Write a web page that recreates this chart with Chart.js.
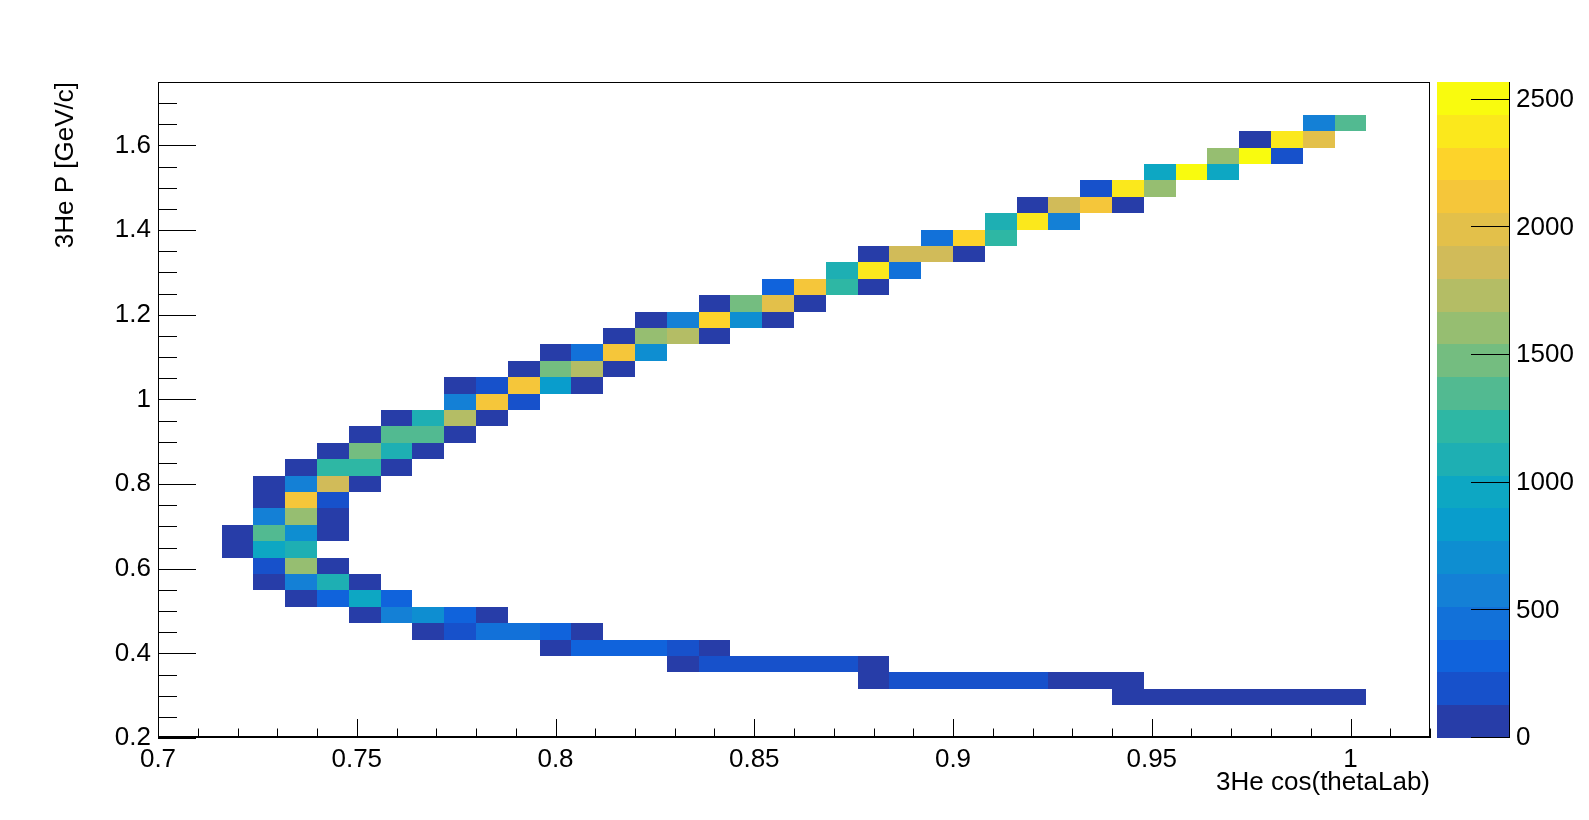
<!DOCTYPE html>
<html>
<head>
<meta charset="utf-8">
<title>3He P vs cos(thetaLab)</title>
<script src="https://cdn.jsdelivr.net/npm/chart.js@4.4.1/dist/chart.umd.min.js"></script>
<style>
  html, body { margin: 0; padding: 0; background: #fff; }
  #wrap { width: 1589px; height: 820px; }
</style>
</head>
<body>
<div id="wrap"><canvas id="c" width="1589" height="820"></canvas></div>
<script>
/* ===== TH2 contents ===== */
const binW = 0.008;    // cos(thetaLab) bin width
const binH = 0.03875;  // P bin width [GeV/c]

// one entry per filled P row: bin centre, centre of first filled cos bin, counts of the contiguous bins
const rowP = [
  0.2969, 0.3356, 0.3744, 0.4131, 0.4519, 0.4906, 0.5294, 0.5681, 0.6069, 0.6456,
  0.6844, 0.7231, 0.7619, 0.8006, 0.8394, 0.8781, 0.9169, 0.9556, 0.9944, 1.0331,
  1.0719, 1.1106, 1.1494, 1.1881, 1.2269, 1.2656, 1.3044, 1.3431, 1.3819, 1.4206,
  1.4594, 1.4981, 1.5369, 1.5756, 1.6144, 1.6531
];
const rowStart = [
  0.944, 0.880, 0.832, 0.800, 0.768, 0.752, 0.736, 0.728, 0.728, 0.720,
  0.720, 0.728, 0.728, 0.728, 0.736, 0.744, 0.752, 0.760, 0.776, 0.776,
  0.792, 0.800, 0.816, 0.824, 0.840, 0.856, 0.872, 0.880, 0.896, 0.912,
  0.920, 0.936, 0.952, 0.968, 0.976, 0.992
];
const rowCounts = [
  [95, 88, 80, 76, 70, 66, 62, 58],
  [110, 180, 205, 215, 200, 160, 120, 105, 40],
  [90, 150, 185, 210, 225, 230, 115],
  [70, 290, 320, 330, 240, 100],
  [60, 220, 420, 440, 340, 95],
  [80, 560, 690, 350, 70],
  [55, 370, 950, 330],
  [100, 560, 1110, 90],
  [230, 1620, 110],
  [85, 980, 1150],
  [75, 1370, 720, 105],
  [600, 1640, 95],
  [110, 2140, 240],
  [85, 590, 1880, 100],
  [90, 1250, 1230, 65],
  [80, 1500, 1140, 70],
  [95, 1370, 1350, 80],
  [85, 1100, 1760, 90],
  [620, 2150, 250],
  [75, 200, 2090, 880, 100],
  [90, 1510, 1780, 95],
  [70, 470, 2170, 740],
  [105, 1630, 1770, 85],
  [80, 600, 2240, 760, 95],
  [90, 1520, 2010, 110],
  [330, 2110, 1260, 75],
  [1120, 2400, 480],
  [100, 1850, 1880, 85],
  [430, 2260, 1240],
  [1130, 2410, 590],
  [90, 1870, 2130, 105],
  [230, 2390, 1610],
  [970, 2570, 990],
  [1590, 2510, 210],
  [95, 2420, 2000],
  [610, 1380]
];

const zMax = 2570;
const nLevels = 20;

const xTicks = [0.7, 0.75, 0.8, 0.85, 0.9, 0.95, 1.0];
const xTickLabels = ["0.7", "0.75", "0.8", "0.85", "0.9", "0.95", "1"];
const yTicks = [0.2, 0.4, 0.6, 0.8, 1.0, 1.2, 1.4, 1.6];
const yTickLabels = ["0.2", "0.4", "0.6", "0.8", "1", "1.2", "1.4", "1.6"];
const zTicks = [0, 500, 1000, 1500, 2000, 2500];
const zTickLabels = ["0", "500", "1000", "1500", "2000", "2500"];

/* ===== kBird palette, 20 contour levels ===== */
const birdStops = [0.0, 0.125, 0.25, 0.375, 0.5, 0.625, 0.75, 0.875, 1.0];
const birdR = [0.2082, 0.0592, 0.0780, 0.0232, 0.1802, 0.5301, 0.8186, 0.9956, 0.9764];
const birdG = [0.1664, 0.3599, 0.5041, 0.6419, 0.7178, 0.7492, 0.7328, 0.7862, 0.9832];
const birdB = [0.5293, 0.8684, 0.8385, 0.7914, 0.6425, 0.4662, 0.3499, 0.1968, 0.0539];

function birdColor(t) {
  let s = 1;
  while (s < birdStops.length - 1 && t > birdStops[s]) s++;
  const f = (t - birdStops[s - 1]) / (birdStops[s] - birdStops[s - 1]);
  const mix = a => Math.round(255 * (a[s - 1] + f * (a[s] - a[s - 1])));
  return `rgb(${mix(birdR)},${mix(birdG)},${mix(birdB)})`;
}
const levelColors = [];
for (let i = 0; i < nLevels; i++) levelColors.push(birdColor(Math.floor((i + 0.99) * 255 / nLevels) / 254));
const colorOf = n => levelColors[Math.min(nLevels - 1, Math.floor(n / zMax * nLevels))];

// flatten rows into points for the dataset
const cells = [];
rowP.forEach((p, r) => rowCounts[r].forEach((n, j) => cells.push({ x: rowStart[r] + j * binW, y: p, v: n })));

/* ===== drawing: cells, ROOT style frame + inside ticks, palette ===== */
const th2Plugin = {
  id: "th2",
  beforeDatasetsDraw(chart) {
    const { ctx, scales: { x, y } } = chart;
    ctx.save();
    for (const c of chart.data.datasets[0].data) {
      const x0 = Math.round(x.getPixelForValue(c.x - binW / 2));
      const x1 = Math.round(x.getPixelForValue(c.x + binW / 2));
      const y0 = Math.round(y.getPixelForValue(c.y - binH / 2));
      const y1 = Math.round(y.getPixelForValue(c.y + binH / 2));
      ctx.fillStyle = colorOf(c.v);
      ctx.fillRect(x0, y1, x1 - x0, y0 - y1);
    }
    ctx.restore();
  },
  afterDraw(chart) {
    const { ctx, chartArea: a, scales: { x, y, z } } = chart;
    const near = (v, list) => list.some(t => Math.abs(t - v) < 1e-6);
    ctx.save();
    ctx.strokeStyle = "#000";
    ctx.lineWidth = 1;

    // frame
    ctx.strokeRect(a.left + 0.5, a.top + 0.5, a.right - a.left - 1, a.bottom - a.top - 1);
    ctx.beginPath();
    ctx.moveTo(a.left, a.bottom - 1.5); ctx.lineTo(a.right, a.bottom - 1.5);
    ctx.stroke();

    ctx.beginPath();
    // x ticks: major every 0.05, minor every 0.01
    for (let i = 0; ; i++) {
      const v = +(x.min + i * 0.01).toFixed(4);
      if (v > x.max + 1e-9) break;
      const px = Math.round(x.getPixelForValue(v)) + 0.5;
      const len = near(v, xTicks) ? 19 : 9.5;
      ctx.moveTo(px, a.bottom); ctx.lineTo(px, a.bottom - len);
    }
    // y ticks: major every 0.2, minor every 0.05
    for (let i = 0; ; i++) {
      const v = +(y.min + i * 0.05).toFixed(4);
      if (v > y.max + 1e-9) break;
      const py = Math.round(y.getPixelForValue(v)) + 0.5;
      const len = near(v, yTicks) ? 38 : 19;
      ctx.moveTo(a.left, py); ctx.lineTo(a.left + len, py);
    }
    ctx.stroke();

    // palette
    const cbL = a.right + 7, cbR = a.right + 79;
    for (let i = 0; i < nLevels; i++) {
      const yA = Math.round(z.getPixelForValue(i * zMax / nLevels));
      const yB = Math.round(z.getPixelForValue((i + 1) * zMax / nLevels));
      ctx.fillStyle = levelColors[i];
      ctx.fillRect(cbL, yB, cbR - cbL, yA - yB);
    }
    ctx.beginPath();
    ctx.moveTo(cbR + 0.5, a.top); ctx.lineTo(cbR + 0.5, a.bottom);
    for (const v of zTicks) {
      const py = Math.round(z.getPixelForValue(v)) - 0.5;
      ctx.moveTo(cbR - 38, py); ctx.lineTo(cbR, py);
    }
    ctx.stroke();
    ctx.restore();
  }
};

// fixed axis boxes, no extra room for label overflow
const fixBox = (w, h) => s => {
  if (w !== null) s.width = w;
  if (h !== null) s.height = h;
  s.paddingTop = s.paddingBottom = s.paddingLeft = s.paddingRight = 0;
};

Chart.defaults.font.family = "'Liberation Sans', Arial, Helvetica, sans-serif";
Chart.defaults.color = "#000";

const font = { size: 26 };
const noGrid = { display: false, drawTicks: false };

new Chart(document.getElementById("c"), {
  type: "scatter",
  data: { datasets: [{ data: cells, pointRadius: 0, pointHoverRadius: 0, showLine: false }] },
  options: {
    responsive: false,
    animation: false,
    devicePixelRatio: 1,
    events: [],
    layout: { padding: { top: 82, left: 0, right: 0, bottom: 0 } },
    plugins: { legend: { display: false }, tooltip: { enabled: false } },
    scales: {
      x: {
        type: "linear", position: "bottom", min: 0.7, max: 1.02,
        afterBuildTicks: s => { s.ticks = xTicks.map(v => ({ value: v })); },
        afterFit: fixBox(null, 82),
        grid: noGrid, border: { display: false },
        ticks: { callback: (v, i) => xTickLabels[i], padding: 6, maxRotation: 0, autoSkip: false, font },
        title: { display: true, text: "3He cos(thetaLab)", align: "end", font, padding: { top: 0, bottom: 22 } }
      },
      y: {
        type: "linear", position: "left", min: 0.2, max: 1.75,
        afterBuildTicks: s => { s.ticks = yTicks.map(v => ({ value: v })); },
        afterFit: fixBox(158, null),
        grid: noGrid, border: { display: false },
        ticks: { callback: (v, i) => yTickLabels[i], padding: 7, autoSkip: false, font },
        title: { display: true, text: "3He P [GeV/c]", align: "end", font, padding: { top: 50, bottom: 0 } }
      },
      z: {
        type: "linear", axis: "y", position: "right", min: 0, max: zMax,
        afterBuildTicks: s => { s.ticks = zTicks.map(v => ({ value: v })); },
        afterFit: fixBox(159, null),
        grid: noGrid, border: { display: false },
        ticks: { callback: (v, i) => zTickLabels[i], padding: 86, autoSkip: false, font }
      }
    }
  },
  plugins: [th2Plugin]
});
</script>
</body>
</html>
